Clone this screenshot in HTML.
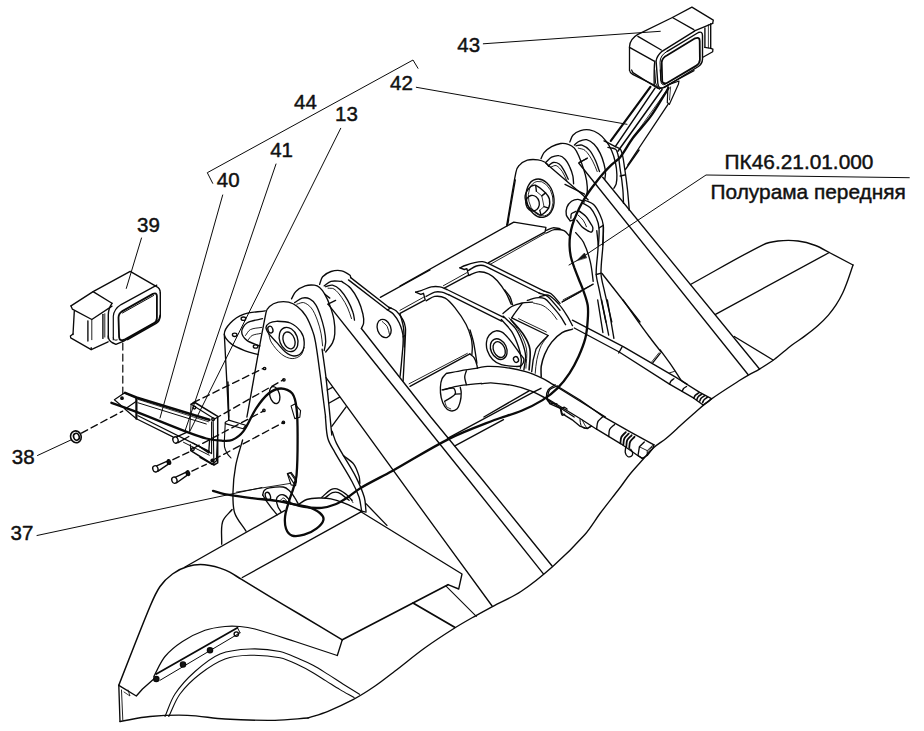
<!DOCTYPE html>
<html lang="ru"><head><meta charset="utf-8"><title>ПК46.21.01.000 Полурама передняя</title>
<style>
html,body{margin:0;padding:0;background:#fff;}
body{width:924px;height:731px;overflow:hidden;}
svg{display:block;}
svg text{font-family:"Liberation Sans",Arial,Helvetica,sans-serif;fill:#111;stroke:#111;stroke-width:0.45px;}
</style></head><body>
<svg width="924" height="731" viewBox="0 0 924 731">
<rect x="0" y="0" width="924" height="731" fill="#fff"/>
<g fill="none" stroke="#0a0a0a" stroke-width="1.35" stroke-linecap="round" stroke-linejoin="round">
<!-- 00_labels.py -->
<text x="457.3" y="52.3" font-size="20.5">43</text>
<text x="390" y="90.2" font-size="20.5">42</text>
<text x="294" y="109.3" font-size="20.5">44</text>
<text x="335" y="120.7" font-size="20.5">13</text>
<text x="270.2" y="156.7" font-size="20.5">41</text>
<text x="216.8" y="186.7" font-size="20.5">40</text>
<text x="137" y="232.3" font-size="20.5">39</text>
<text x="11.8" y="464" font-size="20.5">38</text>
<text x="10.6" y="539.7" font-size="20.5">37</text>
<text x="724.6" y="169.3" font-size="20.85">ПК46.21.01.000</text>
<text x="710.6" y="198.5" font-size="20.85">Полурама передняя</text>
<path d="M212.7,183.3 L207.3,172.7 L413,60 L418,68.3" stroke-width="1.0"/>
<path d="M483.3,43.8 L660.3,31.3" stroke-width="1.0"/>
<path d="M416.3,87.3 L627,124.3" stroke-width="1.0"/>
<path d="M340.7,128.3 L189.5,432" stroke-width="1.0"/>
<path d="M276,164 L185,431" stroke-width="1.0"/>
<path d="M222.7,195 L160,418" stroke-width="1.0"/>
<path d="M141.5,238 L126.3,288.4" stroke-width="1.0"/>
<path d="M37.5,455.5 L71.3,439.8" stroke-width="1.0"/>
<path d="M37,535.5 L262,487.5" stroke-width="1.0"/>
<path d="M909.3,177.7 L706,175 L578,260" stroke-width="1.0"/>
<path d="M577,260.5 L584.5,253 L586.5,257.5 Z" style="fill:#161616;stroke-width:0.6"/>
<path d="M577,260.5 L569,265" stroke-width="1.0"/>
<!-- 10_lamp43.py -->
<path d="M629.5,70.2 L629.5,46.8 Q629.8,39 637.9,34.4 L672.4,17.5 L691.9,7.1 L713.3,20.1 L712.7,23.4" stroke-width="1.3"/>
<path d="M629.5,70.2 Q629.8,72.8 632.7,74.3 L654.2,85.1 L659.4,89" stroke-width="1.3"/>
<path d="M637.9,36.4 L661.3,50"/>
<path d="M629.5,47.4 L654.2,61.1"/>
<path d="M654.8,61.1 Q653.9,67.6 654.2,85.1"/>
<path d="M672.4,17.5 L693.8,29.6"/>
<path d="M712.7,23.4 L694.5,30.9" stroke-width="1.3"/>
<path d="M710.7,23.7 L710.7,48.3"/>
<path d="M704.9,27.9 L704.9,47.4"/>
<path d="M708.4,24.7 L708.4,47.8" stroke-width="0.8"/>
<path d="M710.7,48.3 L712.9,49.1 L712.7,51.7 L702.9,57.2" stroke-width="1.3"/>
<path d="M704.9,47.4 L710.7,48.3"/>
<path d="M667.2,51.3 L698.4,32.5 Q702.5,30.9 702.5,35.7 L702.5,59.1 Q702.3,63.7 698.4,66.5 L664.6,87.3 Q658.3,89.7 657.8,83.2 L656.1,61.1 Q656.8,55.9 662,51.3 L694.5,31.2" stroke-width="1.4"/>
<path d="M667.2,51.3 Q660,55.2 660,62.4 L660.9,81.2 Q661.3,85.8 665.2,84.5" stroke-width="1.0"/>
<path d="M667.2,55.2 L695.1,38.3 Q699.7,36.6 699.7,40.9 L699.9,59.8 Q699.7,63.7 696.4,65.6 L666.5,83.2 Q662.6,84.7 662.2,80.6 L661.7,62.4 Q662,57.8 667.2,55.2 Z" stroke-width="1.8"/>
<path d="M650.4,86.9 L610.8,140.8" stroke-width="2.2"/>
<path d="M655,88.2 L615.3,146.7" stroke-width="1.5"/>
<path d="M662.1,89.5 L617.9,151.2" stroke-width="1.5"/>
<path d="M666,91.4 L635.5,134.3" stroke-width="0.8"/>
<path d="M668,104.4 L627.7,165" stroke-width="1.3"/>
<path d="M668,84.9 L679,81 L678.4,84.3 L669.3,104.4 L667.3,102.5 Z" stroke-width="1.2"/>
<path d="M670.6,86.9 L669.5,99.9" stroke-width="0.8"/>
<path d="M631.6,70 L632.9,72.6 L657.6,88.2 Q660.8,89.5 665.4,86.2 L694,70.6" stroke-width="1.3"/>
<path d="M654.7,70 L655.6,83 Q656.3,86.2 658.9,87.5" stroke-width="1.0"/>
<path d="M660.2,70 L660.8,80.4 Q661.5,83.6 664.7,83" stroke-width="1.0"/>
<!-- 20_hinge_r.py -->
<path d="M506.8,224.8 C509.9,207.3 512.4,189.7 515.9,172.4 C516.4,170 517.3,167.3 519,165.6 C521.1,163.2 524.3,161.2 527.3,160.2 C530.6,159.2 534.5,159.4 538,159.8 C540.6,160.1 543.3,161.2 545.6,162.5 C546.9,163.3 547.6,165 548.6,166.3"/>
<path d="M545.6,163 L580.5,192.9 L588.1,199.7"/>
<ellipse cx="540.1" cy="198.2" rx="13.7" ry="19.4" transform="rotate(-12 540.1 198.2)"/>
<ellipse cx="540.7" cy="198.7" rx="12.1" ry="17.6" transform="rotate(-12 540.7 198.7)" stroke-width="0.8"/>
<path d="M525.1,195.9 C525.5,193.4 528.5,188.7 530.4,186.8 C531.3,185.8 534.4,184.8 535.7,185.3 C538.5,186.4 543.2,190.6 545.6,192.9 C546.9,194.2 549,197.2 549.4,199 C549.8,201.2 549.6,206.1 548.6,208.1 C547.4,210.3 543.2,214.4 541,214.9 C539.3,215.3 535.8,212.3 534.2,211.1 C532.2,209.7 528.5,207 527.3,205 C526.1,203 524.7,198.2 525.1,195.9Z"/>
<ellipse cx="532.6" cy="203.2" rx="6.7" ry="7.9" transform="rotate(-12 532.6 203.2)"/>
<path d="M535.7,185.3 L536.4,191.4"/>
<path d="M545.6,192.9 L541.8,195.9"/>
<path d="M548.6,208.1 L544,206.6"/>
<path d="M541,214.9 L539.8,210.3"/>
<path d="M536.4,191.4 L541.8,195.9 L544,206.6 L539.8,210.3" stroke-width="0.8"/>
<path d="M541,158.7 C542,156.7 542.6,154.3 544,152.6 C546.1,150.3 548.8,148.1 551.6,146.6 C554.4,145.1 557.6,144 560.7,143.5 C563.2,143.2 566,143.5 568.3,144.3 C570.5,145 572.9,146.4 574.4,148.1 C576.4,150.4 577.7,153.6 579,156.4 C580.7,160.4 582.2,164.5 583.5,168.6 C584.8,172.6 585.9,176.6 586.6,180.7 C587.1,184.2 587.5,187.9 587.3,191.4 C587.2,193.4 586.3,195.4 585.8,197.4"/>
<path d="M546.3,161.8 C548.1,160.2 549.6,158.2 551.6,157.2 C553.9,156.1 556.9,155.3 559.2,155.7 C561.4,156 563.7,157.8 565.3,159.5 C567.3,161.6 568.6,164.4 569.8,167.1 C571.2,170 572.2,173.1 572.9,176.2 C573.4,178.6 573.4,181.2 573.6,183.8"/>
<path d="M548.6,165.6 C550.1,164.5 551.5,162.8 553.1,162.5 C555,162.2 557.6,162.9 559.2,164 C561.2,165.4 562.5,167.9 563.8,170.1 C565.5,173 566.8,176.2 568.3,179.2"/>
<path d="M550.9,167.1 C552.6,166.6 554.7,165 556.2,165.6 C558.5,166.5 560.6,169.3 562.3,171.6 C564.2,174.4 565.3,177.7 566.8,180.7" stroke-width="0.9"/>
<path d="M569.8,142 C570.9,139.7 571.3,136.9 572.9,135.2 C574.8,133.1 577.7,131.5 580.5,130.6 C583.3,129.7 586.7,129.4 589.6,129.9 C592.7,130.4 596,131.8 598.7,133.7 C601.6,135.6 604.1,138.4 606.3,141.3 C608.4,144 610.2,147.2 611.6,150.4 C613.3,154.2 614.5,158.4 615.4,162.5 C616.3,166.5 616.8,170.6 616.9,174.7 C617,177.7 616.8,180.9 616.2,183.8 C615.8,185.4 614.6,186.8 613.9,188.3"/>
<path d="M574.4,145.1 C575.9,143.8 577.2,142 579,141.3 C581.3,140.3 584.2,139.3 586.6,139.7 C589.3,140.3 592.1,142.3 594.1,144.3 C596.7,146.8 598.6,150.2 600.2,153.4 C601.9,156.7 603,160.4 604,164 C604.8,167 605.4,170.1 605.5,173.1 C605.6,175.2 605,177.2 604.8,179.2"/>
<path d="M575.9,145.8 C577.9,145.6 580.2,144.5 582,145.1 C584.7,146 587.6,148.1 589.6,150.4 C592.2,153.4 594,157.3 595.7,161 C597.2,164.4 598.2,168.1 599.5,171.6"/>
<path d="M578.2,148.1 C580.5,148.9 583.3,148.8 585,150.4 C588.1,153.1 590.5,157.2 592.6,161 C594.5,164.3 595.7,168.1 597.2,171.6" stroke-width="0.9"/>
<path d="M579.7,162.5 L587.3,158"/>
<path d="M578.7,163 L748,374.5"/>
<path d="M602.7,177.3 L759.5,369"/>
<path d="M579.3,162.4 L587.1,158.5"/>
<path d="M604,140.9 C607.5,142.6 611,144.3 614.4,146.1 C616.6,147.3 619.9,147.8 620.9,150 C623.4,155.6 623.7,163 624.8,169.5 C625.9,176 626.7,182.5 627.4,189 C628.2,196.1 628.7,203.3 629.3,210.4"/>
<path d="M607.9,147.4 C610.7,148.3 615.1,147.7 616.3,150 C619.2,155.1 619.1,163 620.2,169.5 C621.3,176 622.2,182.5 622.8,189 C623.3,193.7 623.3,198.5 623.5,203.3"/>
<path d="M620.2,176 L624.8,175"/>
<path d="M625.4,169.5 L639.1,150"/>
<path d="M570.2,220.8 C568.9,218.9 566.8,217.1 566.3,215 C565.7,212.6 566.1,209.5 566.9,207.2 C567.8,205 569.6,202.7 571.5,201.3 C573.3,200.1 575.9,199.3 578,199.4 C580.2,199.5 582.3,201.1 584.5,202"/>
<path d="M570.8,218.2 C571.1,216.7 570.7,214.8 571.5,213.7 C572.4,212.5 574.5,212.1 576,211.3"/>
<path d="M570.2,220.8 C571.1,220.6 572.1,220.6 572.8,220.2 C573.7,219.6 574.4,218.4 575.1,217.6"/>
<path d="M584.5,200 C587.5,201.6 591.2,202.3 593.6,204.6 C596.4,207.3 598.4,211.3 600.1,215 C601.6,218.2 603,221.8 603.3,225.4 C603.9,231.8 602.9,238.5 602.7,245"/>
<path d="M581.9,202.6 C584.7,204.4 588.1,205.5 590.3,207.8 C592.9,210.5 594.7,214.1 596.2,217.6 C597.6,220.8 598.7,224.4 599,228 C599.5,233.6 598.7,239.3 598.5,245"/>
<path d="M599,228 L603.3,225.4"/>
<path d="M579.3,211.1 C581.5,212.8 584,214.2 585.8,216.3 C587.9,218.6 589.4,221.4 591,224.1 C591.7,225.3 592.8,226.6 592.9,228 C593,229.3 592.5,231.5 591.6,232.1 C591,232.6 589.5,231.5 588.4,231.2"/>
<path d="M576.7,220.2 C578.4,222.3 579.9,224.8 581.9,226.7 C583.8,228.5 586.2,229.7 588.4,231.2"/>
<path d="M578,215 C579.7,216.7 581.8,218.2 583.2,220.2 C584.6,222.1 585.4,224.5 586.4,226.7" stroke-width="0.9"/>
<path d="M565,184.4 L584.5,194.2"/>
<!-- 21_hinge_r2.py -->
<path d="M515.3,180 L507.5,224.8"/>
<path d="M546.5,233 C549.1,231.9 551.6,230 554.3,229.7 C557.4,229.3 561.2,229.4 564,230.6 C566.4,231.7 567.9,234.5 569.9,236.5"/>
<path d="M562.1,301.8 L593.2,284.2"/>
<path d="M563.1,299.8 L591.3,285.2" stroke-width="0.8"/>
<path d="M603.4,226.8 C603.2,232.6 603.3,238.4 603,244.3 C602.5,254 600.8,263.8 601,273.5 C601.2,278.8 602.8,283.9 604,289.1 C606.4,300.1 609.2,311 611.8,322"/>
<path d="M596.8,230.6 C597.2,235.8 598.2,241 598.1,246.2 C598,255.3 596,264.5 596.2,273.5 C596.3,278.8 598.1,283.9 599.1,289.1 C601.3,300.1 603.6,311 605.9,322"/>
<path d="M575.7,232.6 C578.3,235.8 581.7,238.7 583.5,242.3 C586.5,248.4 588.7,255.2 590.3,261.8 C591.9,268.2 592.3,274.8 593.2,281.3"/>
<path d="M596.2,274.5 L601.4,273.1"/>
<path d="M602,273.5 L640,322"/>
<!-- 30_hinge_l.py -->
<path d="M246.9,417 C253.3,382.2 259,347.1 266,312.6 C266.5,310.3 267.8,308 269.5,306.5 C271.8,304.5 275.1,302.9 278.2,302.2 C281.5,301.4 285.3,301.4 288.6,302.2 C291.7,302.9 294.8,304.5 297.3,306.5 C300.6,309.1 303.7,312.4 306,316.1 C308.9,320.8 311,326.4 312.9,331.7 C314.2,335 314.9,338.6 315.5,342.1 C317.1,351.3 318.3,360.6 319.5,369.9 C320.9,379.9 322.1,390 323.4,400 C324.1,405.7 324.9,411.3 325.6,417"/>
<path d="M266,327.4 C266.2,325.8 268,323.9 269.5,323 C271.4,321.9 274.1,321.3 276.4,321.3 C281,321.3 286.2,321.2 290.3,323 C294.3,324.7 298.2,328.2 300.8,331.7 C302.8,334.5 304.1,338.6 304.2,342.1 C304.4,345.6 303.6,350 301.6,352.5 C300.1,354.6 296.4,356.2 293.8,356 C290.9,355.9 287.6,353.7 285.1,351.7 C281.8,349 279.3,345.3 276.4,342.1 C273.8,339.2 270.8,336.6 268.6,333.4 C267.4,331.7 265.9,329.2 266,327.4Z"/>
<ellipse cx="270.4" cy="329.6" rx="2.4" ry="3.5" transform="rotate(-20 270.4 329.6)"/>
<ellipse cx="288.6" cy="339.5" rx="9" ry="12.5" transform="rotate(-20 288.6 339.5)"/>
<ellipse cx="289" cy="340.4" rx="5.7" ry="8.7" transform="rotate(-20 289 340.4)"/>
<path d="M268.6,333.4 C269.5,336.3 269.7,339.6 271.2,342.1 C274,346.6 277.6,351.1 281.7,354.3 C284.5,356.6 288.6,358.5 292.1,358.6 C295,358.8 298.6,357.1 300.8,355.2 C302.7,353.4 303.1,349.9 304.2,347.3" stroke-width="0.9"/>
<path d="M265.2,310.8 C257.9,312 250.2,312 243.4,314.3 C238.6,316 233.9,319.3 230.4,323 C227.5,326 224.2,330.7 224.3,334.3 C224.5,337.6 228.3,341.5 231.3,343.9 C235.2,347 240.4,348.9 245.2,350.8 C249.4,352.5 253.9,353.4 258.2,354.6"/>
<path d="M262.5,318.7 C257.3,320.1 251.2,320.3 246.9,323 C244.2,324.7 241.7,328.8 241.7,331.7 C241.7,334.6 244.4,338.4 246.9,340.4 C250.5,343.2 255.6,344.1 259.9,345.9"/>
<path d="M260.8,333.4 C257.9,334.1 254.6,334.2 252.1,335.5 C250.3,336.5 249.2,338.8 247.8,340.4" stroke-width="0.9"/>
<path d="M261.7,327.4 C257.9,328.1 253.6,328 250.4,329.6 C248.2,330.7 247.1,333.5 245.5,335.5" stroke-width="0.9"/>
<ellipse cx="243.4" cy="318.7" rx="2.3" ry="1.7"/>
<ellipse cx="234.7" cy="334.8" rx="2.3" ry="1.7"/>
<ellipse cx="255.6" cy="346.5" rx="2.3" ry="1.7"/>
<path d="M224.3,334.3 L228.7,417"/>
<path d="M291.5,298.9 C293,296.3 294,293.2 296.1,291.3 C298.6,288.9 301.9,287 305.2,285.9 C308,285 311.3,284.9 314.3,285.2 C316.2,285.4 318.2,286.2 319.6,287.5 C321.7,289.3 323.5,291.8 324.9,294.3 C327.1,298.1 328.8,302.3 330.2,306.4 C331.8,310.9 333.3,315.5 334,320.1 C334.8,324.6 335.1,329.3 334.8,333.8 C334.6,336.9 333.9,340.1 332.5,342.9 C330.9,346.2 328,349 325.7,352"/>
<path d="M294.6,302.6 C297.1,301.1 299.4,298.8 302.1,298.1 C304.5,297.5 307.6,297.8 309.7,298.9 C312.2,300.1 314.3,302.6 315.8,304.9 C317.8,308.1 319.1,311.9 320.4,315.6 C321.9,320 323.2,324.6 324.2,329.2 C325,333.2 325.7,337.3 325.7,341.4 C325.7,344.4 324.7,347.4 324.2,350.5"/>
<path d="M296.8,304.2 C299.1,303.7 301.6,302.1 303.7,302.6 C306.4,303.4 309.4,305.6 311.3,308 C314,311.4 315.7,315.9 317.3,320.1 C319,324.5 320.2,329.2 321.1,333.8 C321.9,337.8 322.1,341.9 322.6,345.9" stroke-width="0.9"/>
<path d="M324.9,294.3 L329.8,298.1"/>
<path d="M328,304.2 L335.6,300.4"/>
<path d="M319.6,284.4 C320.6,281.9 320.9,278.8 322.6,276.8 C324.7,274.5 328,272.5 331,271.5 C334.3,270.5 338.3,270.1 341.6,270.8 C344.6,271.4 347.6,273.5 350,275.3 C350.6,275.8 350.5,276.8 350.7,277.6"/>
<path d="M341.6,281.4 C344.7,283.7 348.3,285.4 350.7,288.2 C353.8,291.7 356.3,296.1 358.3,300.4 C360.4,304.7 361.8,309.4 362.9,314 C363.6,317 364,320.2 363.6,323.1 C363.4,325 362.1,326.7 361.4,328.5"/>
<path d="M324.2,285.9 C326.4,284.4 328.5,282.1 331,281.4 C334.3,280.5 338.1,281.4 341.6,281.4"/>
<path d="M325.7,286.7 C328,286.2 330.4,284.7 332.5,285.2 C335.2,285.8 338.1,287.7 340.1,289.7 C343.1,292.8 345.6,296.6 347.7,300.4 C349.9,304.2 351.6,308.4 353,312.5 C353.9,314.9 354,317.6 354.5,320.1"/>
<path d="M328,288.2 C330,288.5 332.4,287.9 334,289 C337,290.9 339.4,294.3 341.6,297.3 C344,300.6 346,304.3 347.7,308 C349.3,311.4 350.2,315 351.5,318.6" stroke-width="0.9"/>
<path d="M350.7,277.6 L388.7,307.2"/>
<path d="M348.5,279.9 L387.2,309.8 L391,308"/>
<path d="M388.7,307.2 C391.2,308.5 394.2,309.2 396.3,311 C399,313.5 401.3,316.8 403.1,320.1 C404.4,322.4 405,325.1 405.4,327.7 C405.8,330.2 405.5,332.8 405.4,335.3 C404.8,350.5 403.9,365.8 403.1,381"/>
<path d="M387.2,309.8 C389.2,311.2 391.6,312.2 393.3,314 C395.7,316.7 397.9,319.8 399.3,323.1 C401.2,327.4 402.8,332.2 403.1,336.8 C403.6,344.8 402.2,353 401.6,361.1 C401.2,366.2 400.6,371.2 400.1,376.3"/>
<path d="M403.1,336.8 L405.4,335.3"/>
<ellipse cx="384.1" cy="328.5" rx="6.7" ry="9.4" transform="rotate(-20 384.1 328.5)"/>
<path d="M382.3,321.6 C383.9,323.2 386.1,324.5 387.2,326.5 C388.5,328.8 388.7,331.9 389.5,334.5" stroke-width="0.9"/>
<path d="M380.3,297.3 L430,270"/>
<path d="M328,304.2 L370,357 L404.5,400 L468.7,480 L543.4,573.8"/>
<path d="M361.4,328.5 L430.8,417 L482.6,480 L552.1,566"/>
<path d="M326,377.7 L440,534.7 L492.1,606"/>
<ellipse cx="264.6" cy="368.5" rx="1.2" ry="1.2"/>
<ellipse cx="283.9" cy="379.8" rx="1.2" ry="1.2"/>
<ellipse cx="263.9" cy="410.4" rx="1.2" ry="1.2"/>
<ellipse cx="283.4" cy="422.4" rx="1.2" ry="1.2"/>
<ellipse cx="274.7" cy="395.1" rx="4.9" ry="8.7" transform="rotate(-15 274.7 395.1)"/>
<path d="M322.1,349.1 C323.4,358.6 324.9,368.1 326,377.7 C328.2,396.8 329.9,415.9 331.8,435"/>
<path d="M327.3,390 L332.5,387.4"/>
<path d="M329.2,403 L339.6,397.2"/>
<path d="M331.8,426.4 L346.1,406.9"/>
<!-- 40_lamp39.py -->
<path d="M71,305.9 L93.1,291.6 L130.2,271.4 L156.2,286.4 Q160.3,288.3 160.3,292.9" stroke-width="1.4"/>
<path d="M93.1,291.6 L112,303.3"/>
<path d="M71,305.9 L72.3,309.1 L91.8,319.5 L112,306.1" stroke-width="1.3"/>
<path d="M74.3,311.1 L73,334.5"/>
<path d="M87.9,320.8 L87.9,341"/>
<path d="M91.8,319.5 L91.8,339.7" stroke-width="0.9"/>
<path d="M102.9,314.3 L102.9,338.4"/>
<path d="M104.8,313.7 L104.8,337.1" stroke-width="0.9"/>
<path d="M112,303.3 Q108.3,308.5 108.3,315 L108.3,338.4" stroke-width="1.4"/>
<path d="M156.8,285.1 L121.1,304.6 Q113.9,309.1 113.3,316.3 L113.3,339.7" stroke-width="1.2"/>
<path d="M160.3,292.9 L160.3,315.6 Q160.1,320.8 156.2,323.4 L127.6,339.7" stroke-width="1.4"/>
<path d="M122.4,311.1 L152.9,293.9 Q156.8,292.2 156.9,296.1 L156.9,318.2 Q156.8,321.5 153.6,323.4 L124.3,339.7 Q119.5,341.6 119.1,337.1 L118.5,317.6 Q118.7,313.4 122.4,311.1 Z" stroke-width="1.8"/>
<path d="M122.4,313 L153.6,295.5" stroke-width="1.0"/>
<path d="M73,334 L70.4,336 L70.7,337.9 L91.2,349.6 L108.1,341.8" stroke-width="1.3"/>
<path d="M91.2,347.7 L91.2,349.6"/>
<path d="M108.3,336 Q108.3,340.5 112,342.5 L115.9,344.4 L123.7,341.2 L156.8,321.7 Q159.8,319.1 160.1,315.2" stroke-width="1.4"/>
<path d="M113.3,337.9 Q113.9,341.2 117.2,339.9" stroke-width="1.0"/>
<path d="M122.8,343.1 L122.8,394.5" stroke-width="1.2" stroke-dasharray="7 4"/>
<!-- 41_bracket.py -->
<path d="M114.4,399.7 L124.3,392.9 L136.4,397.5 L136.4,401.3 L125.1,408.9 Z" stroke-width="1.2"/>
<ellipse cx="122" cy="398.2" rx="1.2" ry="1.2" fill="#161616"/>
<path d="M136.4,397.9 L136.4,418.7" stroke-width="2.2"/>
<path d="M125.1,392.9 L136.4,397.5 L209.3,419.8" stroke-width="2.6"/>
<path d="M138,402.8 L206.3,424" stroke-width="1.0"/>
<path d="M138,399.4 L208.6,421.8" stroke-width="0.8"/>
<path d="M125.1,409.2 L136.4,418.7 L172.9,436.9" stroke-width="1.2"/>
<path d="M138,415.7 L209.3,451.4" stroke-width="1.2"/>
<path d="M183.5,442.3 L209.3,455.2" stroke-width="1.0"/>
<ellipse cx="175.5" cy="440" rx="2.6" ry="3.2" transform="rotate(-20 175.5 440)"/>
<path d="M176.7,436.9 L186.6,432.4"/>
<path d="M178.2,442.6 L188.8,436.5"/>
<path d="M191.1,404.3 L194.9,402.5 L217.7,416.4 L217.7,462.8 L213.9,465 L190.7,450.6" stroke-width="1.5"/>
<path d="M191.1,404.3 L213.1,418 L213.9,464.7" stroke-width="1.1"/>
<path d="M211.6,421.8 L211.6,453.6 L192.9,443" stroke-width="1.1"/>
<path d="M191.1,404.3 L189.6,430.9" stroke-width="1.0"/>
<path d="M190.7,450.6 L190.3,444.5" stroke-width="1.0"/>
<ellipse cx="194.4" cy="407.6" rx="1.4" ry="1.4"/>
<ellipse cx="213.1" cy="419.2" rx="1.4" ry="1.4"/>
<ellipse cx="212.4" cy="460.5" rx="1.4" ry="1.4"/>
<ellipse cx="192.9" cy="449.1" rx="1.4" ry="1.4"/>
<ellipse cx="155.4" cy="468.8" rx="2.6" ry="3.2" transform="rotate(-20 155.4 468.8)"/>
<path d="M156.6,465.8 L166.8,461.4"/>
<path d="M157.7,471.4 L168,464.4"/>
<path d="M166.8,461.4 L168,464.4"/>
<ellipse cx="169.1" cy="462" rx="1.4" ry="2.4" transform="rotate(-20 169.1 462)" fill="#161616"/>
<ellipse cx="174.4" cy="480.2" rx="2.6" ry="3.2" transform="rotate(-20 174.4 480.2)"/>
<path d="M175.6,477.2 L185.8,472.3"/>
<path d="M176.7,482.8 L187,475.4"/>
<path d="M185.8,472.3 L187,475.4"/>
<ellipse cx="188.1" cy="473.1" rx="1.4" ry="2.4" transform="rotate(-20 188.1 473.1)" fill="#161616"/>
<path d="M172.9,459.7 L188.8,452.1" stroke-dasharray="7 4"/>
<path d="M191.9,471.1 L206.3,464.3" stroke-dasharray="7 4"/>
<path d="M193.1,402.7 L263.7,368.2" stroke-dasharray="7 4"/>
<path d="M214.5,419 L283.4,379.7" stroke-dasharray="7 4"/>
<path d="M193,448.5 L263.7,410.9" stroke-dasharray="7 4"/>
<path d="M214,459.5 L283.4,422.4" stroke-dasharray="7 4"/>
<ellipse cx="75.9" cy="436.8" rx="5.3" ry="6" transform="rotate(-20 75.9 436.8)" stroke-width="1.6"/>
<ellipse cx="76.4" cy="436.8" rx="2.8" ry="3.5" transform="rotate(-20 76.4 436.8)" stroke-width="1.6"/>
<path d="M81.4,433.1 L122.7,411.1" stroke-dasharray="7 4"/>
<path d="M227.9,382 L228.8,420.1" stroke-width="1.5"/>
<path d="M225.3,422.3 L228.8,420.1 L245.7,425.3 L243.1,428.8 L225.3,423.6" stroke-width="1.1"/>
<path d="M225.3,422.3 C225.1,426.2 224.9,430.1 224.7,434 C224.6,438.3 223.9,442.8 224.5,446.9 C224.8,449.4 226.2,451.7 227.5,453.9 C228.4,455.4 229.8,456.6 231,458" stroke-width="1.1"/>
<!-- 50_cylinder.py -->
<path d="M400,286 L513.8,222.1 L545.9,227.3 L545.1,231.8 L488.6,262.6"/>
<path d="M545.9,233 L491.2,263.8" stroke-width="0.9"/>
<path d="M506.8,226.1 L508.6,220"/>
<path d="M545.9,230.4 C548.3,229.6 550.5,228.1 552.9,227.8 C555.2,227.5 557.6,228.4 560,228.7"/>
<path d="M459.9,267.8 C461.7,267 463.4,266.1 465.2,265.5 C468.3,264.4 471.5,263.3 474.7,262.6 C477.3,262 480,261.4 482.5,261.7 C485.2,262 487.7,263.4 490.3,264.3"/>
<path d="M490.3,264.3 L544.2,291.2"/>
<path d="M544.2,291.2 C546.5,292.1 549.2,292.4 551.1,293.8 C554.5,296.4 557.1,300.2 560,303.4"/>
<path d="M468.6,270.4 C471.2,268.9 473.7,267 476.4,266 C478.6,265.3 481.2,265.1 483.4,265.5 C485.8,266 488,267.6 490.3,268.6"/>
<path d="M490.3,268.6 L539,293"/>
<path d="M539,293 C541.9,294.1 545.3,294.5 547.7,296.4 C552.3,300.3 555.9,305.7 560,310.3"/>
<path d="M459.9,267.8 L464.3,269.5 L466.9,268.6 L468.6,275.2 L444.3,288.1"/>
<path d="M466.9,272.6 L443.4,285.7" stroke-width="0.9"/>
<path d="M415.6,292.1 C417.7,291.5 419.7,291 421.7,290.4 C424.9,289.3 428,287.5 431.3,286.9 C434.1,286.4 437.1,286.4 440,286.9 C442.4,287.3 444.6,288.6 446.9,289.5"/>
<path d="M446.9,289.5 L504.2,317.6"/>
<path d="M426.1,296.4 C429,295 431.7,292.9 434.7,292.1 C436.9,291.5 439.5,291.7 441.7,292.1 C444.1,292.5 446.3,293.8 448.6,294.7"/>
<path d="M448.6,294.7 L501.6,321.1"/>
<path d="M415.6,292.1 L420.8,294.4 L423.5,293.3 L425.2,299.9 L400,313.3"/>
<path d="M423.5,297.3 L400,310.3" stroke-width="0.9"/>
<path d="M426.1,300.8 C429,299.3 431.7,296.9 434.7,296.4 C438.1,296 442.3,296.5 445.2,298.2 C449.2,300.5 452.5,304.8 455.6,308.6 C459.5,313.5 463.1,318.7 466,324.2 C468.3,328.6 469.9,333.4 471.2,338.1 C472,341 472.1,344 472.3,347 C472.4,349.5 472,352.1 471.9,354.6"/>
<path d="M468.6,275.6 C471.8,274.3 474.9,272.1 478.2,271.8 C481.6,271.5 485.5,272.4 488.6,273.9 C491.9,275.4 494.8,278.1 497.3,280.8 C500.6,284.5 503.4,288.7 506,293 C508.1,296.5 509.5,300.5 511.2,304.3"/>
<path d="M400,313.8 C401.2,318.4 402.9,323 403.5,327.7 C404.3,334.1 404.1,340.6 404.3,347"/>
<path d="M503,316.1 C507.1,320.1 511.8,323.7 515.2,328.2 C518.2,332.3 520.3,337.3 522.1,342.1 C523.8,346.6 525.3,351.3 525.6,356 C525.9,360.6 524.4,365.3 523.9,369.9"/>
<path d="M501.3,319.5 C504.7,323.6 508.9,327.2 511.7,331.7 C514.7,336.5 516.8,342 518.6,347.3 C520,351.2 520.9,355.4 521.3,359.5 C521.5,362.4 520.7,365.3 520.4,368.2"/>
<path d="M486.5,342.1 C486.8,339.7 487.6,337 489.1,335.2 C490.8,333.2 493.6,331 496.1,330.8 C498.8,330.7 502.6,332.2 504.7,334.3 C510.7,340 515.3,347.5 520.4,354.3 C521.6,355.9 523.7,357.7 523.9,359.5 C524,361.4 522.8,364.4 521.3,365.6 C519.9,366.7 517.2,366.5 515.2,366.4 C510.5,366.2 505.6,366.1 501.3,364.7 C498.1,363.7 494.9,361.8 492.6,359.5 C490.3,357.2 488.5,353.9 487.4,350.8 C486.4,348.1 486.2,344.9 486.5,342.1Z"/>
<ellipse cx="498.7" cy="349.1" rx="7.8" ry="10.8" transform="rotate(-25 498.7 349.1)"/>
<ellipse cx="499.2" cy="349.6" rx="5.6" ry="8.3" transform="rotate(-25 499.2 349.6)"/>
<ellipse cx="516" cy="359.5" rx="2.4" ry="3" transform="rotate(-25 516 359.5)"/>
<path d="M503,313.5 C505.9,311.1 508.5,308.3 511.7,306.5 C514.9,304.8 518.6,303.8 522.1,303 C525.5,302.3 529.1,302.5 532.5,302.2"/>
<path d="M527.3,300.4 C530.2,299.6 533.1,298.1 536,297.8 C538.9,297.5 542.3,297.5 544.7,298.7 C547.5,300.1 549.5,303.2 551.7,305.6 C554.7,309 557.7,312.4 560.3,316.1 C562.3,318.8 563.8,321.9 565.6,324.7"/>
<path d="M539.5,296.9 C542.4,296.4 545.7,294.3 548.2,295.2 C552,296.6 555.6,300.6 558.6,303.9 C561.9,307.5 564.6,311.9 567.3,316.1 C569.2,319.1 570.8,322.4 572.5,325.6"/>
<path d="M533.4,303 C536.6,303.9 540.1,304.1 543,305.6 C546.2,307.3 549.1,310 551.7,312.6 C553.7,314.6 555.1,317.2 556.9,319.5" stroke-width="0.9"/>
<path d="M511.7,317.8 L548.2,335.5 Q539.5,343.9 536,349.1 Q532.5,359.5 531.7,371.7"/>
<path d="M518.6,318.7 L546.4,332" stroke-width="0.9"/>
<path d="M510.8,319.5 C515.2,324.7 520.2,329.5 523.9,335.2 C526.6,339.4 529.2,344.2 529.9,349.1 C530.9,355.8 529.4,363 529.1,369.9" stroke-width="1.6"/>
<path d="M509.1,317.8 C512.9,323 517.3,327.9 520.4,333.4 C523.1,338.3 525.6,343.7 526.5,349.1 C527.5,355.2 526.1,361.8 525.9,368.2" stroke-width="0.9"/>
<path d="M522.1,303.6 C519.8,306.6 517.4,309.5 515.2,312.6 C513.9,314.3 512.9,316.1 511.7,317.8"/>
<path d="M548.2,335.5 C545.9,338.9 543,341.9 541.2,345.6 C539.2,349.9 537.9,354.8 536.9,359.5 C535.9,364 535.7,368.8 535.2,373.4" stroke-width="0.9"/>
<path d="M572.5,329.1 C569,330.2 565.1,330.7 562.1,332.6 C558.2,335 554.6,338.5 551.7,342.1 C548.8,345.7 546.5,350 544.7,354.3 C543.1,358.1 541.9,362.3 541.2,366.4 C540.7,369.8 541.2,373.4 541.2,376.9" stroke-width="1.5"/>
<path d="M562.1,302.2 L581.2,291.7" stroke-width="0.9"/>
<path d="M597.7,300 L602.9,332.5"/>
<path d="M601.6,300 L608.7,335.1"/>
<path d="M607.4,300 L613.9,338.3"/>
<path d="M477.8,367.8 C481,367.4 484.2,366.5 487.4,366.4 C493.1,366.3 499,366.5 504.7,367.3 C511.8,368.3 518.8,369.7 525.6,371.7 C531.6,373.4 537.3,376 543,378.6 C546.6,380.3 549.9,382.7 553.4,384.7"/>
<path d="M553.4,384.7 L605.5,417"/>
<path d="M481.3,383.8 C484.5,383.5 487.7,382.8 490.8,382.9 C498.4,383.4 506,384.1 513.4,385.6 C519.3,386.7 525.2,388.6 530.8,390.8 C535.6,392.6 540.1,395.4 544.7,397.7"/>
<path d="M544.7,397.7 L574.2,417"/>
<path d="M555.1,384.7 C552.8,386.4 549.7,387.6 548.2,389.9 C546.8,392 546.1,395.3 546.4,397.7 C546.7,399.6 548.3,402 549.9,402.9 C551.8,404 554.6,403.5 556.9,403.8"/>
<path d="M560.3,408.1 C560.9,410.5 561,413.6 562.1,415.1 C562.5,415.7 563.8,414.5 564.7,414.2"/>
<path d="M483.9,417 L529.1,390.8"/>
<path d="M470,330 C471.2,334 472.6,338 473.5,342.1 C474.9,349 475.8,356 476.9,363"/>
<path d="M504.7,290 C506.5,292.3 508.6,294.4 510,296.9 C511.2,299.3 511.7,302.2 512.6,304.8"/>
<path d="M446.4,373.4 C451.1,372.5 455.7,371.6 460.3,370.8 C466.1,369.8 471.9,369 477.7,368.2"/>
<path d="M442.1,389.9 C448.2,388.4 454.2,386.6 460.3,385.6 C467.2,384.4 474.2,384 481.2,383.3"/>
<path d="M466.4,370.8 C465.8,372.8 464.7,374.8 464.7,376.9 C464.7,379.5 465.8,382.1 466.4,384.7"/>
<path d="M446.4,373.4 C445,375.1 443,376.6 442.1,378.6 C441,381.2 440.5,384.4 440.4,387.3 C440.2,390.7 440.5,394.4 441.2,397.7 C441.9,400.7 443,403.9 444.7,406.4 C445.9,408.2 447.9,410.3 449.9,410.7 C452,411.2 455.3,410.5 456.9,409 C458.8,407.3 459.6,403.9 460.3,401.2 C461.1,398.4 461.2,395.4 461.2,392.5 C461.2,390.8 460.6,389 460.3,387.3"/>
<path d="M443,389.9 C446.4,389.3 450.9,387.3 453.4,388.2 C454.9,388.7 456.1,392.8 455.1,394.2 C453.2,397.1 448.2,398.9 444.7,401.2"/>
<path d="M455.1,394.2 L460.3,393.9"/>
<path d="M444.7,401.2 C445.3,402.9 445.4,405 446.4,406.4 C447.4,407.7 449.3,408.1 450.8,409" stroke-width="0.9"/>
<path d="M410,386.4 L469.9,353.9"/>
<path d="M409.1,383.8 L467.3,353.4" stroke-width="0.9"/>
<path d="M469.9,353.9 C471.3,355.2 473.2,356.2 474.2,357.8 C475.5,359.8 476.1,362.3 476.8,364.7 C477.2,365.8 477.2,367 477.4,368.2"/>
<!-- 60_fenders.py -->
<path d="M690.5,284.5 C714.7,271.3 738.4,257 763,244.8 C767.6,242.5 772.9,241.6 778,241 C784.6,240.3 791.4,240.2 798,241 C803.9,241.7 809.9,243.4 815.5,245.5 C820.3,247.3 824.7,250.1 829.3,252.5 C837.2,256.6 845.1,260.8 853,265" stroke-width="1.35"/>
<path d="M853,265 C851.3,270 849.7,275 847.9,280 C846.3,284.4 844.7,288.8 842.7,293 C840.8,297 838.6,301 836.2,304.7 C833.9,308.3 831.2,311.8 828.4,315.1 C825.2,318.8 821.7,322.2 818,325.5 C813.9,329.2 809.4,332.6 805,335.9 C800.8,339.1 796.2,341.8 792,345 C786,349.6 780.5,354.8 774.5,359.3 C769.7,362.9 764.6,366 759.5,369.1 C756.2,371.1 752.7,372.7 749.3,374.6 C745.8,376.6 742.4,378.6 739,380.8 C729.7,386.8 720.2,392.7 711.2,399.1 C706.3,402.6 701.8,406.5 697.3,410.4 C691.4,415.5 685.7,420.8 679.9,426 C675.3,430.2 670.8,434.5 666,438.5 C662.1,441.7 657.6,444.1 653.9,447.5 C649.5,451.5 645.7,456.3 641.7,460.8 C637.6,465.4 633.4,469.9 629.5,474.7 C626.3,478.6 623.6,483 620.5,487 C613.7,495.9 606.7,504.6 600,513.5 C594.8,520.5 590.5,528.2 584.7,534.7 C574.8,545.8 564.1,556.4 553,566.3 C543,575.2 532.5,583.9 521.3,591.3 C512.5,597.2 502.4,601.3 493,606.3 C486.9,609.6 480.7,612.9 474.7,616.3 C468,620.1 461.2,623.9 454.7,628 C444.6,634.4 434.4,641 424.7,648 C414.4,655.4 404.8,663.6 394.7,671.3 C388.1,676.4 381.6,681.6 374.7,686.3 C367.7,691.1 360.5,695.7 353,699.7 C344.9,704 336.5,707.8 328,711.3 C321.5,713.9 314.7,715.8 308,718" stroke-width="1.35"/>
<path d="M829.3,252.5 L715.5,314.3" stroke-width="1.35"/>
<path d="M734.3,336.5 L773,360" stroke-width="1.35"/>
<path d="M308,718 C297,718.8 286,720.2 275,720.3 C258.3,720.5 241.6,720 225,719 C212.5,718.3 200,715.7 187.5,715.3 C175,714.9 162.4,715.4 150,716.5 C139.9,717.4 130,719.8 120,721.5" stroke-width="1.35"/>
<path d="M120,721.5 L118.8,685.3" stroke-width="1.35"/>
<path d="M118.8,685.3 C129.2,659 139.1,632.6 150,606.5 C152.9,599.6 155.8,592.6 160,586.5 C163.3,581.7 167.8,577.4 172.5,574 C177,570.8 182.2,568 187.5,566.5 C192.9,564.9 199,564.3 204.6,564.8 C211.6,565.5 218.9,567.5 225.5,570.1 C231.1,572.3 236,576.1 241.2,579.2 C250.8,585 260.3,590.9 269.9,596.7 C279.9,602.7 290,608.5 300,614.5 C314.1,622.9 328.2,631.4 342.3,639.8" stroke-width="1.5"/>
<path d="M342.3,639.8 L337.3,655.5" stroke-width="1.35"/>
<path d="M337.3,655.5 C323.2,650.8 309.1,646.1 295,641.5 C281.7,637.2 268.5,632.7 255,629 C250.1,627.7 245,626.9 240,626.5 C235,626.1 229.9,626 225,626.5 C218.3,627.2 211.3,628.1 205,630.3 C197.2,633.1 189.5,636.9 182.5,641.5 C176.1,645.7 169.8,650.7 165,656.5 C160.2,662.3 157.5,669.8 153.8,676.5" stroke-width="1.2"/>
<path d="M118.8,685.3 L136.3,696 L142.5,689 L153.8,679" stroke-width="1.35"/>
<path d="M121.5,690 L122.8,720" stroke-width="0.9"/>
<path d="M124,692 L130,696 L128,690" stroke-width="0.8"/>
<path d="M156.3,674 L237.5,627.8" stroke-width="1.8"/>
<path d="M160,680.3 L240,632.8" stroke-width="1.0"/>
<path d="M237.5,627.8 L240,632.8" stroke-width="1.0"/>
<circle cx="156.3" cy="679" r="2.6" fill="#161616"/>
<circle cx="183" cy="664.5" r="2.6" fill="#161616"/>
<circle cx="210" cy="650.3" r="2.6" fill="#161616"/>
<circle cx="236.3" cy="634" r="2.2"/>
<path d="M165,716.5 C168.3,709 170.5,700.7 175,694 C180.5,685.7 187.6,678.1 195,671.5 C202.6,664.8 210.8,657.8 220,654 C229.2,650.3 239.9,649.4 250,649 C259.9,648.6 270.3,649.5 280,651.5 C286.9,652.9 293.4,656.5 300,659.3 C304.4,661.1 308.8,663 313,665.3 C318.2,668.1 323.1,671.3 328.1,674.4 C333.2,677.6 338.2,681 343.3,684.2 C348.7,687.6 354.1,690.9 359.5,694.3" stroke-width="1.1"/>
<path d="M168.8,716.5 C172.5,709 175.1,700.7 180,694 C185.5,686.5 192.6,679.7 200,674 C207.6,668.1 216.1,662.3 225,659 C232.7,656.1 241.6,655.5 250,655.3 C260,655.1 270.3,655.8 280,657.8 C287,659.3 293.5,662.8 300,665.8 C304.5,667.8 308.8,670.2 313,672.7 C317.4,675.3 321.7,678.2 326,680.9 C330.7,683.8 335.3,686.8 340,689.6 C344.6,692.4 349.4,694.9 354.1,697.6" stroke-width="1.1"/>
<path d="M185,567 L285,510.4" stroke-width="1.35"/>
<path d="M242.3,577.5 L361,511.8" stroke-width="1.35"/>
<path d="M360.5,511.5 L462,574 L458.7,589 L448,584.7" stroke-width="1.35"/>
<path d="M342.3,639.8 L448,584.7" stroke-width="1.6"/>
<path d="M446.3,586.3 L476.3,616.3" stroke-width="1.1"/>
<path d="M413,603 L454.7,627.3" stroke-width="1.8"/>
<!-- 70_lower_mid.py -->
<path d="M325.4,417 C326.2,424.1 326,431.5 327.8,438.2 C329.1,443.2 332.2,447.6 334.7,452.1 C340.3,462.1 346.7,471.6 352.1,481.7 C354.8,486.7 357.3,491.9 359.1,497.3 C360.5,501.7 360.8,506.6 361.7,511.2"/>
<path d="M332.1,431.3 C333.6,435.3 334.5,439.6 336.5,443.4 C342.3,454.7 349.8,465.2 355.6,476.4 C359,483.1 362.1,490.1 364.3,497.3 C365.6,501.7 365.4,506.6 366,511.2"/>
<path d="M361.7,511.2 L366,512.1"/>
<path d="M343.4,455.6 C346.9,458.5 351.2,460.8 353.9,464.3 C356.4,467.7 357.7,472.3 359.1,476.4 C359.8,478.6 359.6,481.1 359.9,483.4"/>
<path d="M365.7,503.4 L386.9,525.4"/>
<path d="M242.6,440 C240.2,448.7 237.2,457.2 235.6,466.1 C234,474.6 233.2,483.4 233,492.1 C232.9,499.1 232.6,506.5 234.7,513 C236.9,519.6 242.3,525.1 246,531.2"/>
<path d="M232.1,509.5 C229,513.5 224,516.9 222.6,521.7 C220.5,528.5 222,536.7 221.7,544.2"/>
<path d="M236.5,492.1 L290.3,483.4" stroke-width="0.9"/>
<path d="M287.7,473.9 L290.3,472.7 L296.4,481.7 L293.8,483.4 Z" stroke-width="1.1"/>
<path d="M291.1,406.1 L294.8,404.1 L300.6,410.6 L299.8,417.3 L294.8,418.6 Z" stroke-width="1.1"/>
<path d="M287.3,473.6 L291.1,472.4 L296.6,479.9 L295.6,485.7 L291.1,484.9 Z" stroke-width="1.1"/>
<path d="M200,446.9 L208.7,453 L209.6,440"/>
<path d="M217.4,440 L216.5,460.8 L212.2,464.3 L200,457.4"/>
<ellipse cx="212.5" cy="460.5" rx="1" ry="1" fill="#161616"/>
<path d="M262.7,495 C263.2,493.5 263.2,491.5 264.2,490.5 C265.5,489.1 267.6,488.2 269.5,487.9 C274,487.1 278.8,486.4 283.2,487 C285.4,487.3 287.5,488.9 289.2,490.5 C291.3,492.4 293,494.9 294.5,497.3 C296,499.4 297.1,501.8 298.3,504.1"/>
<path d="M262.7,495 C264,497 265.2,499.1 266.5,501.1 C268.5,503.9 270.5,506.7 272.6,509.4 C274,511.2 275.6,512.9 277.1,514.7"/>
<ellipse cx="267.9" cy="496.1" rx="2.4" ry="3.9" transform="rotate(-20 267.9 496.1)"/>
<path d="M280.9,511.7 C279.9,509.9 278.6,508.2 277.9,506.4 C277.1,504.2 276.2,501.7 276.4,499.5 C276.5,498.2 277.5,496.4 278.6,495.8 C280,494.9 282.4,494.5 283.9,495 C285.7,495.5 287.3,497.3 288.5,498.8 C289.6,500.3 290,502.3 290.8,504.1"/>
<path d="M279.7,501.1 C280.9,500.1 282,498.2 283.2,498 C284.2,497.9 285.5,499.3 286.2,500.3 C287,501.5 287.2,503.1 287.7,504.5" stroke-width="0.9"/>
<path d="M299.1,504.1 C301.6,502.6 303.9,500.4 306.7,499.5 C310.5,498.4 314.7,498.2 318.8,498 C322.8,497.9 327,498 330.9,498.8 C335,499.6 339.1,501 343,502.6 C349.2,505 355.2,508.1 361.2,510.9"/>
<path d="M321.8,497.3 C324.8,494.7 327.6,491.5 330.9,489.7 C332.6,488.8 335.1,488.4 337,488.9 C340.2,489.9 343.3,492.2 346.1,494.2 C348.3,495.9 350.1,498.3 352.1,500.3"/>
<path d="M324.8,498 C327.4,496.3 329.7,493.8 332.4,492.7 C334.2,492 336.7,491.9 338.5,492.7 C342.3,494.5 345.6,497.8 349.1,500.3"/>
<path d="M344.5,499.5 C346.1,498.8 347.9,496.8 349.1,497.3 C350.7,497.8 351.6,500.8 352.9,502.6" stroke-width="0.9"/>
<!-- 80_right.py -->
<path d="M572.4,320.2 L623.7,346.8 L677.3,378.2 L699.7,392.4 L711.4,398.7"/>
<path d="M574.3,328 L619.2,352 L669.5,384.1 L693.8,398.2 L703.1,405"/>
<path d="M622.1,346.9 L618.7,353"/>
<path d="M673.9,378.7 C672.9,379.5 671.7,380.2 670.9,381.2 C670.3,382 670,383.1 669.5,384.1"/>
<path d="M686.5,386.5 C685.6,387.2 684.4,387.6 683.6,388.5 C682.9,389.3 682.6,390.4 682.1,391.4"/>
<path d="M698.7,392.9 C697.6,393.7 696.2,394.3 695.3,395.3 C694.6,396.1 694.3,397.2 693.8,398.2" stroke-width="1.6"/>
<path d="M701.6,394.3 C700.5,395.1 699.1,395.7 698.2,396.8 C697.5,397.5 697.2,398.7 696.8,399.7" stroke-width="1.6"/>
<path d="M704.5,395.8 C703.4,396.6 702,397.2 701.1,398.2 C700.4,399 700.2,400.2 699.7,401.1" stroke-width="1.6"/>
<path d="M707.5,397.2 C706.3,398.1 705,398.7 704.1,399.7 C703.3,400.5 703.1,401.6 702.6,402.6" stroke-width="1.6"/>
<path d="M711.4,398.7 C710.4,399.7 709.5,400.8 708.4,401.6 C706.8,402.9 704.9,403.9 703.1,405"/>
<path d="M669.5,372.9 L674.4,371.4" stroke-width="0.9"/>
<path d="M623,300 C627.1,305.8 631.1,311.6 635.2,317.4 C639.7,323.8 644.3,330.2 649.1,336.5 C653,341.8 657.2,346.9 661.2,352.1"/>
<path d="M660.2,350 C663.3,354.2 666.5,358.4 669.5,362.7 C672.2,366.5 674.7,370.5 677.3,374.4 C678.6,376.3 679.5,378.6 681.2,380.2 C682.8,381.8 685.1,382.8 687,384.1"/>
<path d="M660.2,353.4 L652.9,362.7"/>
<path d="M659,352.7 L651.7,361.9" stroke-width="0.8"/>
<path d="M557.1,386 L580,400 L603.4,416.6 L630.6,432.1 L654,444.8"/>
<path d="M547.1,398.5 L580,418.5 L596.6,429.2 L620.9,443.8 L638.4,456 L642.3,458.4"/>
<path d="M557.1,386 C554.6,387.3 551.2,387.8 549.6,389.8 C547.9,392 548,395.6 547.1,398.5"/>
<path d="M602.9,416.6 C601.3,418.2 599,419.5 598,421.4 C596.9,423.7 597,426.6 596.6,429.2"/>
<path d="M614.6,424.4 C613,426 610.6,427.3 609.7,429.2 C608.7,431.3 609.1,434.1 608.7,436.5"/>
<path d="M625.8,432.1 C624.3,433.8 622.3,435.1 621.4,437 C620.5,438.9 620.7,441.2 620.4,443.3" stroke-width="1.8"/>
<path d="M628.7,433.7 C627.2,435.3 625.2,436.7 624.3,438.6 C623.4,440.4 623.7,442.8 623.3,444.9" stroke-width="1.8"/>
<path d="M631.6,435.3 C630.2,436.9 628.1,438.2 627.2,440.1 C626.4,442 626.6,444.4 626.3,446.5" stroke-width="1.8"/>
<path d="M634.5,436.8 C633.1,438.4 631.1,439.8 630.2,441.7 C629.3,443.5 629.5,445.9 629.2,448" stroke-width="1.8"/>
<path d="M644.3,441.9 L639.4,446.8 L638,455.5 L642.3,458.4 L647.2,455.5 L652.6,448.7 L654,444.8"/>
<path d="M639.4,446.8 L647.2,450.6 L652.6,445.3" stroke-width="0.9"/>
<path d="M647.2,450.6 L647.2,455.5" stroke-width="0.9"/>
<path d="M652.1,446.8 C650.8,448.4 649.3,449.9 648.2,451.6 C647.6,452.5 647.5,453.6 647.2,454.5" stroke-width="0.9"/>
<path d="M625.8,446.8 C625.6,448.7 624.9,450.8 625.3,452.6 C625.6,454 626.6,455.9 627.7,456.5 C628.7,457 630.8,456.7 631.6,456 C632.4,455.4 632.8,453.7 632.6,452.6 C632.4,451.4 631.3,450.3 630.6,449.2"/>
<path d="M548.4,399.8 L549.6,403.6 L560.9,408.6 L562.1,413.6 L572.2,419.8 L579.7,426.1 L587.2,428.6 L590.9,426.1"/>
<path d="M560.9,408.6 C562.1,408.1 563.5,407.2 564.6,407.3 C565.5,407.4 566.3,408.5 567.1,409.1"/>
<path d="M582.2,419.8 C583,421.5 583.7,423.2 584.7,424.8 C585.4,426.1 586.3,427.3 587.2,428.6" stroke-width="0.9"/>
<path d="M580,419.5 C580.3,421.4 580.2,423.6 581,425.3 C581.5,426.5 582.7,427.9 583.9,428.2 C585.3,428.7 587.2,428.1 588.8,427.8 C589.8,427.5 590.7,426.8 591.7,426.3" stroke-width="1.0"/>
<path d="M447.5,438.3 L533.4,392.2 L541,388.3"/>
<path d="M454.9,445.8 L503.5,419.6"/>
<!-- 90_cable.py -->
<path d="M111.4,402.8 C119.7,405.8 128.1,408.7 136.4,411.9 C153.7,418.6 170.8,425.8 188.1,432.4 C194.1,434.7 200.1,437 206.3,438.5 C211.2,439.7 216.4,440.4 221.5,440.7 C225,440.9 229,441.4 232.1,440 C236.3,438.2 240.6,434.9 243.5,431.1 C248.6,424.4 251.3,415.7 256,408.6 C259.6,403.2 263.6,397.5 268.6,393.5 C272,390.8 277,388.5 281.1,388.5 C284.9,388.5 290,390.6 292.3,393.5 C295.2,397.3 296,403.4 296.6,408.6 C297.8,419.3 297.6,430.3 297.6,441.1 C297.6,452.3 297.5,463.6 296.6,474.7 C296.3,478.8 295,482.9 293.8,486.9 C292.3,492.2 290.1,497.2 288.6,502.5 C287.2,507.1 285.6,511.7 285.1,516.4 C284.7,520.4 284.7,525 286,528.6 C287,531.4 289.5,534.7 292.1,535.6 C295.5,536.8 300.4,535.8 304.2,534.7 C308.5,533.5 312.9,531.3 316.4,528.6 C319.3,526.4 322.7,523 323.4,519.9 C323.9,517.8 321.8,514.6 319.9,513 C316.6,510.2 312,508.3 307.7,506.9 C303.3,505.4 298.4,505.2 293.8,504.3 C288,503.2 282.2,501.7 276.4,500.8 C268.3,499.6 260.2,499.2 252.1,498.2 C244,497.2 235.8,496.2 227.8,494.7 C222.8,493.8 217.9,492.2 213,490.9" stroke-width="2.3"/>
<path d="M668.5,88 C667.9,88.9 667.4,89.9 666.8,90.8 C661.3,99.5 656.3,108.6 650.3,116.9 C645,124.2 638.4,130.6 633,137.8 C628.3,144.1 624.9,151.4 620,157.5 C617.7,160.4 614.1,162.3 611.4,164.9 C608.7,167.5 606.1,170.3 603.6,173.1 C600.9,176.1 598.4,179.3 595.9,182.5 C593.2,185.9 590.5,189.4 588.1,193 C585.8,196.3 583.7,199.8 581.8,203.3 C579.8,206.9 578,210.6 576.4,214.4 C574.9,217.8 573.5,221.2 572.5,224.7 C571.4,228.2 570.6,231.9 570.1,235.5 C569.6,239 569.5,242.6 569.6,246.2 C569.7,249.8 570.1,253.4 570.9,256.9 C571.7,260.5 573.1,264.1 574.3,267.6 C575.7,271.4 577.2,275.2 578.7,279 C580.2,282.8 581.9,286.5 583.2,290.3 C584.9,295.2 586.9,300.2 587.7,305.3 C588.4,310.2 588.1,315.4 587.7,320.4 C587.3,326.4 586.8,332.6 585.3,338.4 C583.7,344.6 581.2,350.7 578.6,356.5 C576,362.2 573.1,367.9 569.6,373.1 C566.1,378.4 562.1,383.6 557.6,388.1 C553.1,392.6 547.9,396.7 542.5,400.1 C535.9,404.2 528.7,407.7 521.5,410.7 C512.7,414.3 503.3,416.6 494.4,420 C479.3,425.9 464,431.4 449.5,438.6 C429.9,448.4 411.4,460.3 392.2,471 C381.5,476.9 370.4,482.2 359.9,488.4 C355.6,491 351.9,494.6 347.7,497.3 C343.8,499.9 339.8,502.6 335.5,504.3 C331.1,506.1 326.3,507.4 321.6,507.8 C315.9,508.3 309.9,507.9 304.2,506.9 C297.2,505.7 290.3,503.1 283.4,501.2" stroke-width="2.3"/>
</g>
</svg>
</body></html>
